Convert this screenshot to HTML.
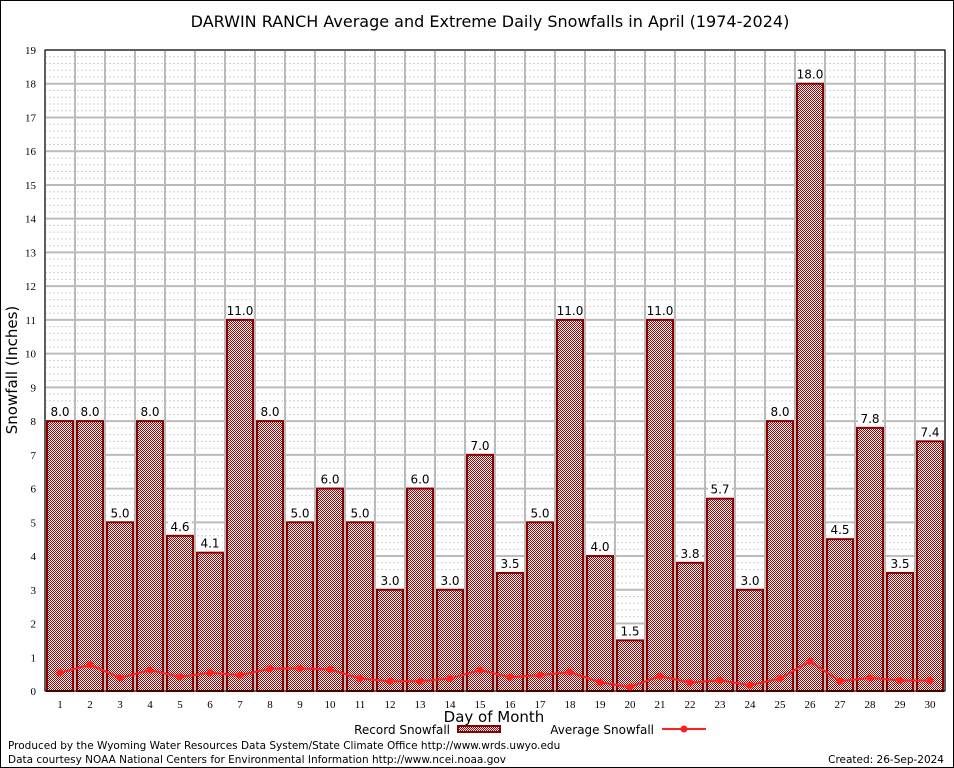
<!DOCTYPE html>
<html><head><meta charset="utf-8"><style>
body{margin:0;background:#fff}
svg{display:block;font-family:"DejaVu Sans","Liberation Sans",sans-serif}
</style></head><body>
<svg id="chart" width="954" height="768">
<defs>
<pattern id="chk" width="2" height="2" patternUnits="userSpaceOnUse">
<rect width="2" height="2" fill="#fff"/><rect width="1" height="1" fill="#a00000"/><rect x="1" y="1" width="1" height="1" fill="#a00000"/>
</pattern>
</defs>
<rect x="0.5" y="0.5" width="953" height="767" fill="#fff" stroke="#000"/>
<text x="490" y="27" font-size="16" text-anchor="middle">DARWIN RANCH Average and Extreme Daily Snowfalls in April (1974-2024)</text>
<g id="grid"></g>
<g id="bars"></g>
<g id="line"></g>
<g id="axes"></g>
<text transform="translate(17,370) rotate(-90)" font-size="15" text-anchor="middle">Snowfall (Inches)</text>
<text x="494" y="722" font-size="15" text-anchor="middle">Day of Month</text>
<g>
<text x="450" y="734" font-size="12" text-anchor="end">Record Snowfall</text>
<rect x="458" y="726" width="42" height="6" fill="url(#chk)" stroke="#8b0000" stroke-width="2"/>
</g>
<g>
<text x="654" y="734" font-size="12" text-anchor="end">Average Snowfall</text>
<line x1="662" y1="729" x2="706" y2="729" stroke="#ff2020" stroke-width="2"/>
<circle cx="684" cy="729" r="3.5" fill="#ff2020"/>
</g>
<text x="8" y="749" font-size="10.5">Produced by the Wyoming Water Resources Data System/State Climate Office http://www.wrds.uwyo.edu</text>
<text x="8" y="763" font-size="10.5">Data courtesy NOAA National Centers for Environmental Information http://www.ncei.noaa.gov</text>
<text x="944" y="763" font-size="10.5" text-anchor="end">Created: 26-Sep-2024</text>
</svg>
<script>
const days=[1,2,3,4,5,6,7,8,9,10,11,12,13,14,15,16,17,18,19,20,21,22,23,24,25,26,27,28,29,30];
const recordValues=[8.0,8.0,5.0,8.0,4.6,4.1,11.0,8.0,5.0,6.0,5.0,3.0,6.0,3.0,7.0,3.5,5.0,11.0,4.0,1.5,11.0,3.8,5.7,3.0,8.0,18.0,4.5,7.8,3.5,7.4];
const averageValues=[0.54,0.78,0.39,0.62,0.42,0.54,0.47,0.66,0.67,0.64,0.37,0.29,0.29,0.37,0.62,0.41,0.47,0.56,0.26,0.12,0.44,0.25,0.32,0.17,0.37,0.88,0.29,0.39,0.31,0.31];
const yTicks=[0,1,2,3,4,5,6,7,8,9,10,11,12,13,14,15,16,17,18,19];
const L=45,R=945,T=50,B=691,YMAX=19;
const xs=d=>L+(d-0.5)*(R-L)/30;
const ys=v=>B-v*(B-T)/YMAX;
const NS="http://www.w3.org/2000/svg";
function mk(t,a,p){const e=document.createElementNS(NS,t);for(const k in a)e.setAttribute(k,a[k]);p.appendChild(e);return e;}
const grid=document.getElementById('grid'),bars=document.getElementById('bars'),line=document.getElementById('line'),axes=document.getElementById('axes');
for(let v=0;v<=YMAX;v+=0.2){mk('line',{x1:L,x2:R,y1:ys(v),y2:ys(v),stroke:'#d0d0d0','stroke-width':1,'stroke-dasharray':'2,2'},grid);}
for(let i=0;i<=30;i++){const x=L+i*30;mk('line',{x1:x,x2:x,y1:T,y2:B,stroke:'#bbb','stroke-width':2},grid);}
yTicks.forEach(v=>{mk('line',{x1:L,x2:R,y1:ys(v),y2:ys(v),stroke:'#bbb','stroke-width':2},grid);
 const t=mk('text',{x:L-9,y:ys(v)+4,'font-size':11,'text-anchor':'end','font-family':'Liberation Serif,serif'},axes);t.textContent=v;
 
 
});
days.forEach((d,i)=>{
 const v=recordValues[i],x=xs(d),w=26;
 const r=mk('rect',{x:x-w/2,y:ys(v),width:w,height:B-ys(v),fill:'url(#chk)',stroke:'#8b0000','stroke-width':2},bars);
 
 
 const lbl=v.toFixed(1);
 mk('rect',{x:x-12,y:ys(v)-16,width:24,height:13,fill:'#fff'},bars);
 const t=mk('text',{x:x,y:ys(v)-5,'font-size':12,'text-anchor':'middle'},bars);t.textContent=lbl;
 
 
 const tl=mk('text',{x:x,y:B+17,'font-size':11,'text-anchor':'middle','font-family':'Liberation Serif,serif'},axes);tl.textContent=d;
 
 
});
const pts=days.map((d,i)=>xs(d)+','+ys(averageValues[i])).join(' ');
const pl=mk('polyline',{points:pts,fill:'none',stroke:'#ff2020','stroke-width':2},line);


days.forEach((d,i)=>{const c=mk('circle',{cx:xs(d),cy:ys(averageValues[i]),r:3.5,fill:'#ff2020'},line);
 
 });
const fr=mk('rect',{x:L,y:T,width:R-L,height:B-T,fill:'none',stroke:'#000','stroke-width':1},axes);


</script>
</body></html>
